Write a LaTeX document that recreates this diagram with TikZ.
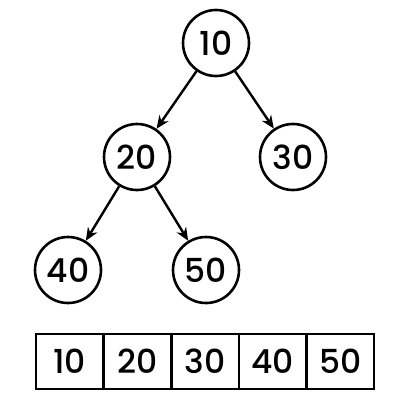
\documentclass[tikz,border=0pt]{standalone}
\usepackage{fontspec}
\setmainfont{Poppins}[BoldFont={Poppins Medium}]
\usetikzlibrary{positioning, arrows.meta}
\tikzset{>={Stealth[length=13pt, width=11pt]}}

\begin{document}
\begin{tikzpicture}[x=1pt, y=-1pt,
    vertex/.style={circle, draw, line width=2.6pt, minimum size=66pt, inner sep=0pt, font=\fontsize{33}{36}\selectfont\bfseries},
    cell/.style={rectangle, draw, line width=2.6pt, minimum width=67.6pt, minimum height=55pt, inner sep=0pt, font=\fontsize{33}{36}\selectfont\bfseries},
    edge/.style={->, line width=2.4pt}]
    \useasboundingbox (0,0) rectangle (411,400);
    % tree
    \node[vertex] (n10) at (216,43) {10};
    \node[vertex] (n20) at (137,157) {20};
    \node[vertex] (n30) at (293,157) {30};
    \node[vertex] (n40) at (68,270) {40};
    \node[vertex] (n50) at (206,270) {50};

    \draw[edge] (n10) -- (n20);
    \draw[edge] (n10) -- (n30);
    \draw[edge] (n20) -- (n40);
    \draw[edge] (n20) -- (n50);

    % array
    \node[cell] (a1) at (69.8,361.5) {10};
    \node[cell, right=-2.6pt of a1] (a2) {20};
    \node[cell, right=-2.6pt of a2] (a3) {30};
    \node[cell, right=-2.6pt of a3] (a4) {40};
    \node[cell, right=-2.6pt of a4] (a5) {50};
\end{tikzpicture}
\end{document}
